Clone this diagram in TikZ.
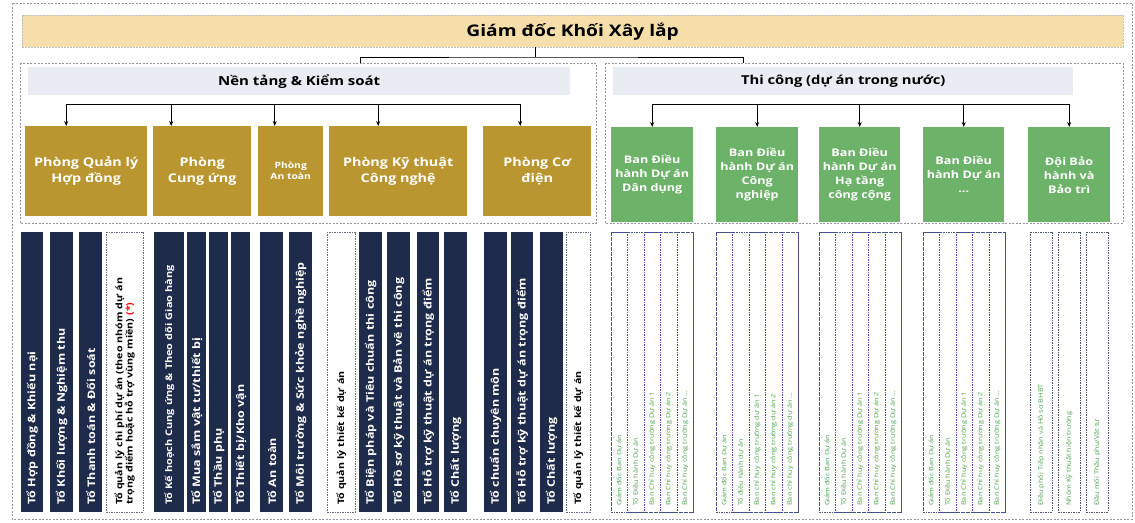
\documentclass[tikz,border=0pt]{standalone}
\usepackage{fontspec}
\setmainfont{Open Sans}[FakeStretch=1.2]
\usepackage{xcolor}
\usetikzlibrary{arrows.meta}
\definecolor{navy}{RGB}{31,43,74}
\definecolor{gold}{RGB}{185,150,48}
\definecolor{leaf}{RGB}{108,178,104}
\definecolor{leaftext}{RGB}{70,160,72}
\definecolor{tan}{RGB}{246,222,170}
\definecolor{band}{RGB}{233,237,243}
\definecolor{frame}{RGB}{150,150,162}

\begin{document}
\begin{tikzpicture}[x=1pt,y=-1pt,
  frm/.style={draw=frame, dash pattern=on 2pt off 1.5pt, line width=0.6pt},
  dept/.style={rectangle, fill=gold, text=white, anchor=north west, align=center, inner sep=2pt, font=\bfseries\fontsize{12}{15.5}\selectfont},
  ban/.style={rectangle, fill=leaf, text=white, anchor=north west, align=center, inner sep=2pt, font=\bfseries\fontsize{10.5}{14}\selectfont},
  team/.style={rectangle, fill=navy, text=white, rotate=90, anchor=north west, text width=266pt, inner xsep=7pt, inner ysep=1pt, align=left, font=\bfseries\fontsize{10.4}{11}\selectfont},
  teamw/.style={team, fill=white, draw=navy!70, dash pattern=on 1.5pt off 1pt, text=black, font=\bfseries\fontsize{8.9}{10.4}\selectfont},
  sub/.style={rectangle, rotate=90, anchor=north west, text width=268pt, inner xsep=6pt, inner ysep=0pt, align=left, draw=blue!45!gray, dash pattern=on 1.5pt off 1pt, text=leaftext, font=\fontsize{6.1}{7}\selectfont},
  arr/.style={-{Stealth[length=5pt,width=4pt]}, line width=0.8pt}]
\useasboundingbox (0,0) rectangle (1135,522);
\draw[frm] (12,3) rectangle (1132,519);

% top
\node[rectangle, fill=tan, draw=frame!60, dash pattern=on 2pt off 1pt, anchor=north west, minimum width=1101pt, minimum height=32pt, font=\bfseries\fontsize{16}{19}\selectfont] (title) at (22,15) {Giám đốc Khối Xây lắp};

% two groups
\draw[frm] (20,63) rectangle (596,223);
\draw[frm] (605,63) rectangle (1123,223);
\node[fill=band, anchor=north west, minimum width=542pt, minimum height=28pt, font=\bfseries\fontsize{12.5}{15}\selectfont] (nenTang) at (28,67) {Nền tảng \& Kiểm soát};
\node[fill=band, anchor=north west, minimum width=460pt, minimum height=28pt, font=\bfseries\fontsize{12.3}{15}\selectfont] (thiCong) at (613,67) {Thi công (dự án trong nước)};
\coordinate (jM) at (535,57);
\coordinate (jL) at (360,63);
\coordinate (jR) at (743,63);
\draw[line width=0.8pt] (title.south -| jM) -- (jM);
\draw[line width=0.8pt] (jL) |- (jM) -| (jR);

% departments
\node[dept, minimum width=122pt, minimum height=90pt] (pqlhd) at (25,126) {Phòng Quản lý\\Hợp đồng};
\node[dept, minimum width=98pt, minimum height=90pt] (pcu) at (153,126) {Phòng\\Cung ứng};
\node[dept, minimum width=65pt, minimum height=90pt, font=\bfseries\fontsize{8.6}{11}\selectfont] (pat) at (258,126) {Phòng\\An toàn};
\node[dept, minimum width=138pt, minimum height=90pt] (pktcn) at (329,126) {Phòng Kỹ thuật\\Công nghệ};
\node[dept, minimum width=108pt, minimum height=90pt] (pcd) at (483,126) {Phòng Cơ\\điện};

\coordinate (busL) at (0,104);
\draw[line width=0.8pt] ([xshift=-20pt]pqlhd.north |- busL) -- ([xshift=-17pt]pcd.north |- busL);
\foreach \nd/\dx in {pqlhd/-20, pcu/-31, pat/-16, pktcn/-20, pcd/-17}
  \draw[arr] ([xshift=\dx pt]\nd.north |- busL) -- ([xshift=\dx pt]\nd.north);

% project boards
\node[ban, minimum width=82pt, minimum height=95pt] (bdd) at (611,127) {Ban Điều\\hành Dự án\\Dân dụng};
\node[ban, minimum width=82pt, minimum height=95pt] (bcn) at (716,127) {Ban Điều\\hành Dự án\\Công\\nghiệp};
\node[ban, minimum width=81pt, minimum height=95pt] (bht) at (819,127) {Ban Điều\\hành Dự án\\Hạ tầng\\công cộng};
\node[ban, minimum width=81pt, minimum height=95pt] (bkh) at (923,127) {Ban Điều\\hành Dự án\\...};
\node[ban, minimum width=82pt, minimum height=95pt] (dbh) at (1028,127) {Đội Bảo\\hành và\\Bảo trì};

\coordinate (busR) at (0,104);
\draw[line width=0.8pt] (bdd.north |- busR) -- (dbh.north |- busR);
\foreach \nd in {bdd, bcn, bht, bkh, dbh}
  \draw[arr] (\nd.north |- busR) -- (\nd.north);

% teams under the departments
\node[team, minimum height=22pt] (t1) at (21,512) {Tổ Hợp đồng \& Khiếu nại};
\node[team, minimum height=23pt] (t2) at (50,512) {Tổ Khối lượng \& Nghiệm thu};
\node[team, minimum height=23pt] (t3) at (79,512) {Tổ Thanh toán \& Đối soát};
\node[teamw, minimum height=37pt] (t4) at (106,512) {Tổ quản lý chi phí dự án (theo nhóm dự án\\trọng điểm hoặc hỗ trợ vùng miền) {\color{red}(*)}};
\node[team, minimum height=30pt, font=\bfseries\fontsize{9.1}{11}\selectfont] (t5) at (154,512) {Tổ Kế hoạch Cung ứng \& Theo dõi Giao hàng};
\node[team, minimum height=19pt] (t6) at (187,512) {Tổ Mua sắm vật tư/thiết bị};
\node[team, minimum height=19pt] (t7) at (209,512) {Tổ Thầu phụ};
\node[team, minimum height=19pt] (t8) at (231,512) {Tổ Thiết bị/Kho vận};
\node[team, minimum height=23pt] (t9) at (260,512) {Tổ An toàn};
\node[team, minimum height=23pt] (t10) at (289,512) {Tổ Môi trường \& Sức khỏe nghề nghiệp};
\node[teamw, minimum height=28pt] (t11) at (327,512) {Tổ quản lý thiết kế dự án};
\node[team, minimum height=23pt] (t12) at (359,512) {Tổ Biện pháp và Tiêu chuẩn thi công};
\node[team, minimum height=23pt] (t13) at (387,512) {Tổ Hồ sơ kỹ thuật và Bản vẽ thi công};
\node[team, minimum height=22pt] (t14) at (417,512) {Tổ Hỗ trợ kỹ thuật dự án trọng điểm};
\node[team, minimum height=23pt] (t15) at (444,512) {Tổ Chất lượng};
\node[team, minimum height=23pt] (t16) at (484,512) {Tổ chuẩn chuyên môn};
\node[team, minimum height=22pt] (t17) at (511,512) {Tổ Hỗ trợ kỹ thuật dự án trọng điểm};
\node[team, minimum height=23pt] (t18) at (540,512) {Tổ Chất lượng};
\node[teamw, minimum height=24pt] (t19) at (566,512) {Tổ quản lý thiết kế dự án};

% units under the project boards
\foreach \gx/\gn in {611/a, 819/c, 923/d} {
  \foreach \t [count=\i] in {{Giám đốc Ban Dự án}, {Tổ Điều hành Dự án}, {Ban Chỉ huy công trường Dự án 1}, {Ban Chỉ huy công trường Dự án 2}, {Ban Chỉ huy công trường Dự án \dots}}
    \node[sub, minimum height=16.4pt] (s\gn\i) at ({\gx+(\i-1)*16.4},512) {\t};
  \draw[navy!80, dash pattern=on 1.5pt off 1pt, line width=0.6pt] (\gx,232) rectangle ++(82,280);
}
\foreach \t [count=\i] in {{Giám đốc Ban Dự án}, {Tổ điều hành dự án}, {Ban chỉ huy công trường dự án 1}, {Ban chỉ huy công trường dự án 2}, {Ban chỉ huy công trường dự án \dots}}
  \node[sub, minimum height=16.4pt] (sb\i) at ({716+(\i-1)*16.4},512) {\t};
\draw[navy!80, dash pattern=on 1.5pt off 1pt, line width=0.6pt] (716,232) rectangle ++(82,280);

\node[sub, draw=navy!80, minimum height=22pt] (se1) at (1030,512) {Điều phối Tiếp nhận và Hồ sơ BHBT};
\node[sub, draw=navy!80, minimum height=22pt] (se2) at (1058,512) {Nhóm Kỹ thuật hiện trường};
\node[sub, draw=navy!80, minimum height=22pt] (se3) at (1086,512) {Đầu mối Thầu phụ/Vật tư};
\end{tikzpicture}
\end{document}
